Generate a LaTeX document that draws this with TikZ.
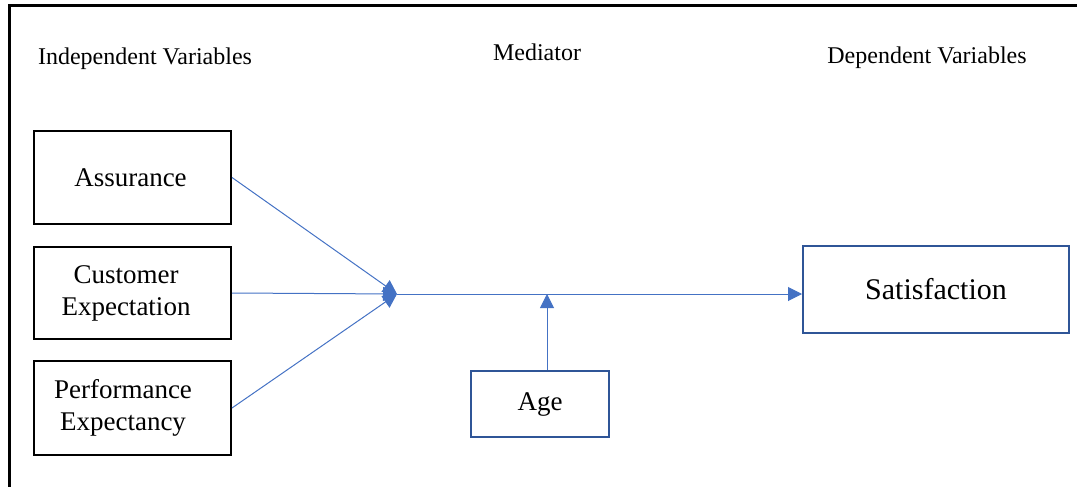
\documentclass[tikz,border=0pt]{standalone}
\usepackage{fontspec}
\setmainfont{Liberation Serif}
\usetikzlibrary{arrows.meta}
\definecolor{linkblue}{HTML}{4472C4}
\definecolor{edgeblue}{HTML}{2F5597}
\begin{document}
\begin{tikzpicture}[x=1pt,y=-1pt,
  heading/.style={anchor=base,inner sep=0pt,font=\fontsize{24}{28}\selectfont},
  varbox/.style={draw=black,line width=2pt,inner sep=0pt,align=center,
    minimum width=197pt,font=\fontsize{27}{32}\selectfont},
  medbox/.style={draw=edgeblue,line width=2pt,inner sep=0pt,align=center,
    font=\fontsize{27}{32}\selectfont},
  link/.style={draw=linkblue,line width=1pt,-{Triangle[length=14pt,width=14pt]}},
  ]
  \useasboundingbox (0,0) rectangle (1077,487);
  % frame
  \draw[line width=3pt] (9,487) -- (9,6) -- (1077,6);

  % column headings
  \node[heading] (hind) at (145,65) {Independent Variables};
  \node[heading] (hmed) at (537,61) {Mediator};
  \node[heading] (hdep) at (927,64) {Dependent Variables};

  % independent variables (labels sit slightly left of centre)
  \node[varbox,minimum height=93pt] (assur) at (132.5,177.5) {Assurance\hspace*{4pt}};
  \node[varbox,minimum height=92pt] (cust) at (132.5,293) {Customer\hspace*{13pt}\\Expectation\hspace*{13pt}};
  \node[varbox,minimum height=94pt] (perf) at (132.5,408) {Performance\hspace*{19pt}\\Expectancy\hspace*{19pt}};

  % mediator and outcome
  \node[medbox,minimum width=138pt,minimum height=66pt] (age) at (540,404) {Age};
  \node[medbox,minimum width=266pt,minimum height=87pt,font=\fontsize{30}{34}\selectfont] (sat) at (936,289.5) {Satisfaction};

  % junction points
  \coordinate (j) at (397,294);
  \coordinate (m) at (547,294);

  % connectors
  \draw[link] (assur.east) -- (j);
  \draw[link] (cust.east) -- (j);
  \draw[link] (perf.east) -- (j);
  \draw[link] (j) -- (j -| sat.west);
  \draw[link] (age.north -| m) -- (m);
\end{tikzpicture}
\end{document}
